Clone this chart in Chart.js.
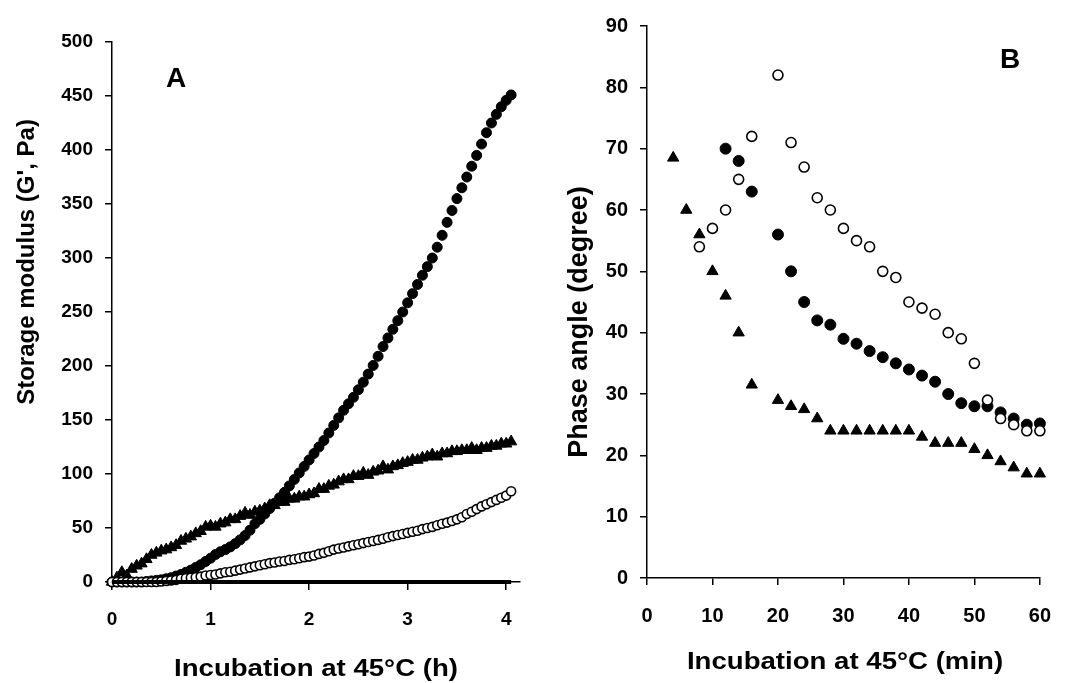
<!DOCTYPE html>
<html>
<head>
<meta charset="utf-8">
<script src="https://cdn.jsdelivr.net/npm/chart.js@4.4.1/dist/chart.umd.min.js"></script>
<style>
  html, body { margin: 0; padding: 0; background: #fff; }
  #wrap { position: relative; width: 1070px; height: 683px; }
  #chartA { position: absolute; left: 0; top: 0; }
  #chartB { position: absolute; left: 540px; top: 0; }
</style>
</head>
<body>
<div id="wrap">
  <canvas id="chartA" width="540" height="683"></canvas>
  <canvas id="chartB" width="530" height="683"></canvas>
</div>
<script>
// Panel A: storage modulus vs incubation time (h)
const hoursA = [
  0, 0.05, 0.1, 0.15, 0.2, 0.25, 0.3, 0.35, 0.4, 0.45,
  0.5, 0.55, 0.6, 0.65, 0.7, 0.75, 0.8, 0.85, 0.9, 0.95,
  1, 1.05, 1.1, 1.15, 1.2, 1.25, 1.3, 1.35, 1.4, 1.45,
  1.5, 1.55, 1.6, 1.65, 1.7, 1.75, 1.8, 1.85, 1.9, 1.95,
  2, 2.05, 2.1, 2.15, 2.2, 2.25, 2.3, 2.35, 2.4, 2.45,
  2.5, 2.55, 2.6, 2.65, 2.7, 2.75, 2.8, 2.85, 2.9, 2.95,
  3, 3.05, 3.1, 3.15, 3.2, 3.25, 3.3, 3.35, 3.4, 3.45,
  3.5, 3.55, 3.6, 3.65, 3.7, 3.75, 3.8, 3.85, 3.9, 3.95,
  4, 4.05
];
const filledA = [
  0, 0, 0, 0, 0, 0, 0, 0.5, 1, 1.5,
  2, 3, 4, 5.5, 7, 9, 11, 13.5, 16, 19,
  22, 25.5, 28, 30, 32.5, 35.5, 39, 43, 48, 54,
  58, 63, 68, 73, 78, 83, 89, 95, 101, 107,
  113, 119, 125, 131, 138, 145, 152, 159, 165, 171,
  178, 185, 192.5, 200.5, 209, 218, 226, 234, 242, 250,
  258.5, 267, 275.5, 284, 292, 300, 310, 321, 333, 344,
  355, 365, 375, 385, 395, 405.5, 416, 425, 433, 440,
  446, 451
];
const triA = [
  0, 4, 9, 6, 12, 15, 17, 21, 25, 27,
  29, 30, 32, 34, 38, 40, 42, 45, 47, 51,
  52, 51, 54, 55, 58, 58, 61, 64, 62, 65,
  66, 68, 71, 71, 74, 74, 77, 77, 79, 79,
  81, 82, 86, 86, 89, 90, 93, 95, 95, 98,
  98, 101, 99, 102, 103, 107, 104, 107, 108, 110,
  111, 113, 113, 115, 116, 118, 116, 119, 119, 121,
  121, 122, 122, 124, 122, 124, 124, 126, 126, 128,
  128, 130
];
const openA = [
  0, 0, 0, 0, 0, 0, 0, 0, 0, 0,
  0.5, 1, 1.5, 2, 3, 3.5, 4, 4.5, 5, 6,
  6.5, 7, 8, 9, 9.5, 10.5, 11.5, 12.5, 13.5, 14.5,
  15.5, 16.5, 17.5, 18, 19, 19.5, 20.5, 21, 22, 23,
  23.5, 24.5, 26, 27, 28.5, 30, 31, 32, 33, 34,
  35, 36, 37, 38, 39, 40, 41.5, 42.5, 43.5, 44.5,
  45.5, 46.5, 47.5, 49, 50, 51, 52.5, 54, 55, 56.5,
  58, 60, 63, 65, 67.5, 70, 72, 74, 76, 78,
  80, 84
];
const ctrlA = [
  0, 0, 0, 0, 0, 0, 0, 0, 0, 0,
  0, 0, 0, 0, 0, 0, 0, 0, 0, 0,
  0, 0, 0, 0, 0, 0, 0, 0, 0, 0,
  0, 0, 0, 0, 0, 0, 0, 0, 0, 0,
  0, 0, 0, 0, 0, 0, 0, 0, 0, 0,
  0, 0, 0, 0, 0, 0, 0, 0, 0, 0,
  0, 0, 0, 0, 0, 0, 0, 0, 0, 0,
  0, 0, 0, 0, 0, 0, 0, 0, 0, 0,
  0, 0
];

// Panel B: phase angle vs incubation time (min)
const minTriB = [4, 6, 8, 10, 12, 14, 16, 20, 22, 24, 26, 28, 30, 32, 34, 36, 38, 40, 42, 44, 46, 48, 50, 52, 54, 56, 58, 60];
const triB = [68.5, 60, 56, 50, 46, 40, 31.5, 29, 28, 27.5, 26, 24, 24, 24, 24, 24, 24, 24, 23, 22, 22, 22, 21, 20, 19, 18, 17, 17];
const minFilledB = [12, 14, 16, 20, 22, 24, 26, 28, 30, 32, 34, 36, 38, 40, 42, 44, 46, 48, 50, 52, 54, 56, 58, 60];
const filledB = [70, 68, 63, 56, 50, 45, 42, 41.3, 39, 38.2, 37, 36, 35, 34, 33, 32, 30, 28.5, 28, 28, 27, 26, 25, 25.2];
const minOpenB = [8, 10, 12, 14, 16, 20, 22, 24, 26, 28, 30, 32, 34, 36, 38, 40, 42, 44, 46, 48, 50, 52, 54, 56, 58, 60];
const openB = [54, 57, 60, 65, 72, 82, 71, 67, 62, 60, 57, 55, 54, 50, 49, 45, 44, 43, 40, 39, 35, 29, 26, 25, 24, 24];

const ticksA_y = [0, 50, 100, 150, 200, 250, 300, 350, 400, 450, 500];
const ticksA_x = [0, 1, 2, 3, 4];

const FONT = "'Liberation Sans', Arial, sans-serif";

function pts(xs, ys) {
  return xs.map((x, i) => ({ x: x, y: ys[i] }));
}

// draws panel letters and axis titles at fixed spots
const captions = {
  id: 'captions',
  afterDraw(chart, args, opts) {
    const ctx = chart.ctx;
    (opts.items || []).forEach(it => {
      ctx.save();
      ctx.fillStyle = '#000';
      ctx.font = 'bold ' + it.size + 'px ' + FONT;
      ctx.textAlign = 'center';
      ctx.textBaseline = 'middle';
      ctx.translate(it.x, it.y);
      if (it.rotate) ctx.rotate(-Math.PI / 2);
      if (it.stretch) ctx.scale(it.stretch, 1);
      ctx.fillText(it.text, 0, 0);
      ctx.restore();
    });
  }
};

function axisStyle(tickLen, pad, size) {
  return {
    grid: { display: true, drawOnChartArea: false, drawTicks: true, tickLength: tickLen, color: '#000', lineWidth: 1.5 },
    border: { display: true, color: '#000', width: 1.5 },
    ticks: { color: '#000', padding: pad, font: { family: FONT, size: size, weight: 'bold' } }
  };
}

const xA = axisStyle(8, 18, 19);
xA.min = 0; xA.max = 4.14;
xA.ticks.stepSize = 1;
xA.ticks.includeBounds = false;
xA.afterFit = s => { s.height = 101; };
xA.afterBuildTicks = s => { s.ticks = ticksA_x.map(v => ({ value: v })); };

const yA = axisStyle(7, 12, 19);
yA.min = 0; yA.max = 500;
yA.ticks.stepSize = 50;
yA.afterFit = s => { s.width = 112; };
yA.afterBuildTicks = s => { s.ticks = ticksA_y.map(v => ({ value: v })); };

new Chart(document.getElementById('chartA'), {
  type: 'scatter',
  data: {
    datasets: [
      { label: 'open', data: pts(hoursA, openA), pointStyle: 'circle', pointRadius: 4.5,
        backgroundColor: '#fff', borderColor: '#000', borderWidth: 1.6, order: 1 },
      { label: 'filled', data: pts(hoursA, filledA), pointStyle: 'circle', pointRadius: 5,
        backgroundColor: '#000', borderColor: '#000', borderWidth: 1, order: 2 },
      { label: 'triangle', data: pts(hoursA, triA), pointStyle: 'triangle', pointRadius: 6.5,
        backgroundColor: '#000', borderColor: '#000', borderWidth: 1, order: 3 },
      { label: 'control', data: pts(hoursA, ctrlA), showLine: true, pointRadius: 0,
        borderColor: '#000', borderWidth: 4, order: 0 }
    ]
  },
  options: {
    responsive: false,
    animation: false,
    clip: false,
    layout: { autoPadding: false, padding: { left: 0, top: 42, right: 20, bottom: 0 } },
    plugins: {
      legend: { display: false },
      tooltip: { enabled: false },
      captions: {
        items: [
          { text: 'A', x: 176, y: 79, size: 28 },
          { text: "Storage modulus (G', Pa)", x: 27, y: 262, size: 24, rotate: true },
          { text: 'Incubation at 45°C (h)', x: 316, y: 669, size: 24, stretch: 1.15 }
        ]
      }
    },
    scales: { x: xA, y: yA }
  },
  plugins: [captions]
});

const xB = axisStyle(7, 19, 20);
xB.min = 0; xB.max = 60;
xB.ticks.stepSize = 10;
xB.afterFit = s => { s.height = 105; };

const yB = axisStyle(7, 12, 20);
yB.min = 0; yB.max = 90;
yB.ticks.stepSize = 10;
yB.afterFit = s => { s.width = 107; };

new Chart(document.getElementById('chartB'), {
  type: 'scatter',
  data: {
    datasets: [
      { label: 'open', data: pts(minOpenB, openB), pointStyle: 'circle', pointRadius: 5,
        backgroundColor: '#fff', borderColor: '#000', borderWidth: 1.6 },
      { label: 'filled', data: pts(minFilledB, filledB), pointStyle: 'circle', pointRadius: 5.5,
        backgroundColor: '#000', borderColor: '#000', borderWidth: 1 },
      { label: 'triangle', data: pts(minTriB, triB), pointStyle: 'triangle', pointRadius: 6.5,
        backgroundColor: '#000', borderColor: '#000', borderWidth: 1 }
    ]
  },
  options: {
    responsive: false,
    animation: false,
    clip: false,
    layout: { autoPadding: false, padding: { left: 0, top: 26, right: 13, bottom: 0 } },
    plugins: {
      legend: { display: false },
      tooltip: { enabled: false },
      captions: {
        items: [
          { text: 'B', x: 470, y: 60, size: 28 },
          { text: 'Phase angle (degree)', x: 40, y: 322, size: 27, rotate: true },
          { text: 'Incubation at 45°C (min)', x: 305, y: 662, size: 24, stretch: 1.15 }
        ]
      }
    },
    scales: { x: xB, y: yB }
  },
  plugins: [captions]
});
</script>
</body>
</html>
